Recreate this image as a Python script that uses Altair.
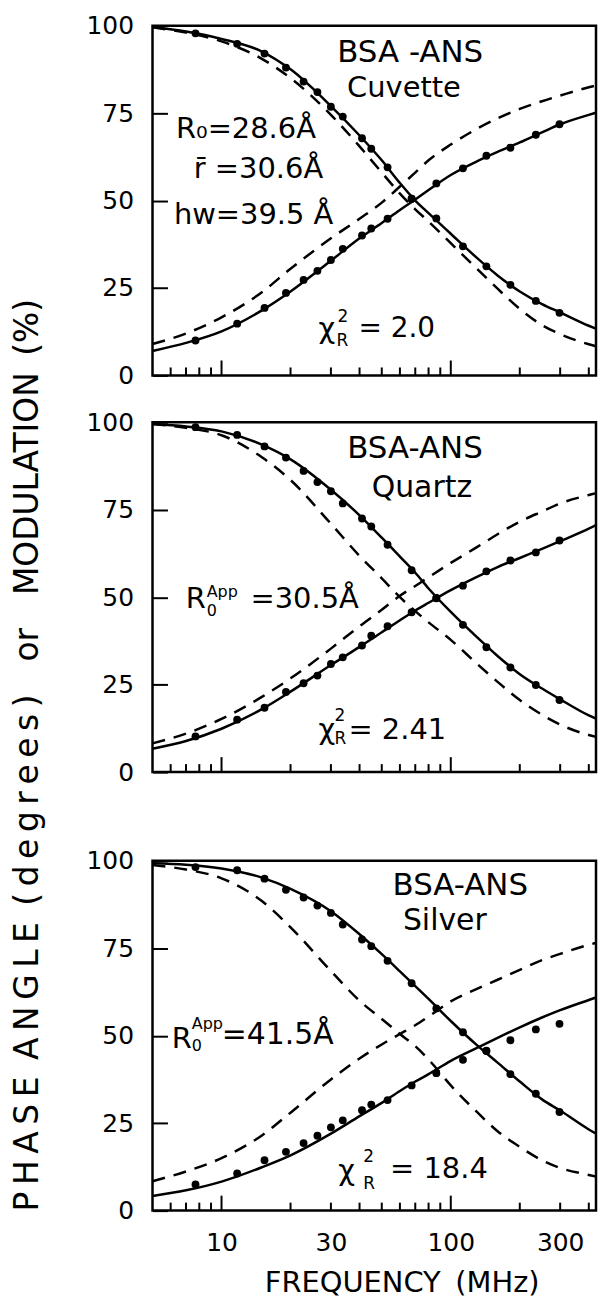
import altair as alt
import pandas as pd

# ---------------- data ----------------
FREQ_DOTS = [7.7, 11.7, 15.4, 19.1, 22.8, 26.2, 30.0, 33.8, 41.0, 45.0, 53.0, 67.5, 86.5, 113, 143, 182, 235, 298]

MOD_CUVETTE = [97.8, 94.8, 92.0, 88.0, 84.0, 81.0, 76.8, 74.0, 67.8, 64.8, 59.5, 50.5, 44.9, 36.9, 31.2, 25.9, 21.3, 17.9]
PHASE_CUVETTE = [10.0, 14.8, 19.3, 23.6, 27.3, 29.9, 33.0, 36.2, 40.0, 42.0, 44.8, 50.5, 54.9, 59.2, 62.8, 65.1, 68.8, 71.8]

MOD_QUARTZ = [98.6, 96.4, 93.1, 89.9, 86.1, 82.9, 80.3, 76.8, 72.5, 70.2, 65.0, 57.7, 49.7, 42.1, 35.7, 29.9, 24.9, 20.6]
PHASE_QUARTZ = [10.2, 15.0, 18.4, 22.9, 25.4, 27.6, 30.9, 32.8, 36.2, 39.0, 41.7, 45.7, 49.8, 53.3, 57.4, 60.5, 62.8, 66.2]

MOD_SILVER = [98.2, 97.3, 94.9, 91.7, 89.5, 87.2, 85.1, 81.8, 77.5, 75.6, 71.4, 65.0, 57.8, 51.0, 45.7, 39.0, 33.4, 28.2]
PHASE_SILVER = [7.5, 10.6, 14.4, 16.8, 19.3, 21.4, 23.8, 25.8, 28.7, 30.3, 31.6, 35.8, 39.3, 43.1, 45.6, 48.7, 51.8, 53.4]

FREQ_CURVE = [5, 7, 10, 15, 20, 30, 40, 50, 60, 70, 80, 100, 130, 160, 200, 250, 300, 400, 480]

FIT_MOD_CUVETTE = [99.6, 98.3, 96.2, 92.6, 87.5, 77.0, 68.6, 61.5, 55.0, 50.0, 46.4, 40.5, 33.6, 28.6, 24.0, 20.4, 18.0, 14.2, 12.2]
FIT_PHASE_CUVETTE = [7.0, 9.3, 12.6, 18.6, 24.0, 32.8, 39.2, 43.6, 47.3, 50.3, 53.0, 57.3, 61.2, 63.9, 66.6, 69.5, 71.8, 74.5, 76.0]
DONOR_MOD_CUVETTE = [99.5, 98.0, 95.5, 90.5, 85.0, 74.5, 65.5, 58.0, 52.0, 47.5, 44.0, 37.8, 30.5, 24.8, 19.0, 14.4, 11.8, 8.9, 7.5]
DONOR_PHASE_CUVETTE = [9.0, 12.0, 16.6, 23.8, 30.5, 39.2, 44.8, 49.4, 54.0, 58.0, 61.5, 66.0, 70.5, 73.5, 76.2, 78.4, 80.0, 82.4, 83.6]

FIT_MOD_QUARTZ = [99.5, 98.8, 97.4, 93.6, 89.4, 80.7, 73.4, 67.0, 61.6, 57.0, 52.5, 45.8, 38.6, 33.2, 28.0, 23.9, 20.8, 16.2, 14.0]
FIT_PHASE_QUARTZ = [6.7, 8.9, 12.4, 18.0, 23.0, 30.6, 35.8, 40.0, 43.4, 46.2, 48.4, 52.0, 55.8, 58.6, 61.2, 63.8, 66.0, 69.6, 72.2]
DONOR_MOD_QUARTZ = [99.5, 98.4, 96.3, 90.0, 83.5, 71.0, 61.8, 55.4, 50.0, 46.0, 42.8, 37.8, 31.0, 25.8, 20.6, 16.4, 13.6, 10.6, 9.5]
DONOR_PHASE_QUARTZ = [8.2, 11.0, 15.2, 21.5, 26.8, 35.3, 41.7, 46.4, 50.4, 53.2, 55.7, 59.8, 64.3, 68.0, 71.6, 74.5, 76.8, 79.2, 80.4]

FIT_MOD_SILVER = [99.3, 98.9, 97.8, 95.2, 92.0, 85.6, 79.0, 73.3, 68.4, 64.2, 60.5, 54.2, 47.3, 42.3, 36.9, 31.8, 28.6, 23.2, 20.3]
FIT_PHASE_SILVER = [4.2, 5.8, 8.3, 12.4, 15.8, 22.0, 27.0, 30.8, 34.2, 36.9, 39.0, 42.8, 46.5, 49.4, 52.4, 55.2, 57.3, 60.2, 62.0]
DONOR_MOD_SILVER = [98.8, 97.5, 95.0, 88.5, 81.0, 68.5, 60.0, 54.8, 50.5, 47.0, 43.2, 35.8, 28.2, 22.7, 18.2, 14.4, 12.2, 10.2, 9.1]
DONOR_PHASE_SILVER = [8.4, 11.2, 15.0, 21.5, 28.0, 37.5, 43.5, 47.5, 50.5, 53.0, 55.5, 59.8, 63.4, 66.0, 68.8, 71.6, 73.4, 76.0, 77.2]

MINOR_TICKS = [6, 7, 8, 9, 20, 30, 40, 50, 60, 70, 80, 90, 200, 300, 400]
MAJOR_TICKS = [10, 100]
Y_TICKS = [0, 25, 50, 75, 100]
X_LABELS = [10, 30, 100, 300]

NB = "\u00a0"
EN = "\u2002"
TH = "\u2009"


def spaced(word):
    return TH.join(word)


Y_TITLE = (spaced("PHASE") + EN + spaced("ANGLE") + EN + spaced("(degrees)") + EN * 2 + "or"
           + EN * 2 + "MODULATION" + EN + "(%)")
X_TITLE = "FREQUENCY" + EN + "(MHz)"

# ---------------- styling ----------------
W, H = 445, 351
FONT = "DejaVu Sans"
xscale = alt.Scale(type="log", domain=[5, 430], nice=False)
yscale = alt.Scale(domain=[0, 100], nice=False)


def y_axis():
    return alt.Axis(values=Y_TICKS, tickSize=15, offset=-15, domain=False, grid=False,
                    labelPadding=19, title=None, labelFontSize=25, labelFont=FONT,
                    labelColor="black", tickColor="black", tickWidth=2)


def make_panel(mod, ph, fit_m, fit_p, don_m, don_p, notes, x_axis):
    def X():
        return alt.X("f:Q", scale=xscale, axis=x_axis)

    def Y():
        return alt.Y("v:Q", scale=yscale, axis=y_axis())

    layers = []
    for vals in (fit_m, fit_p):
        layers.append(alt.Chart(pd.DataFrame({"f": FREQ_CURVE, "v": vals}))
                      .mark_line(color="black", strokeWidth=2.5, interpolate="monotone", clip=True)
                      .encode(x=X(), y=Y()))
    for vals in (don_m, don_p):
        layers.append(alt.Chart(pd.DataFrame({"f": FREQ_CURVE, "v": vals}))
                      .mark_line(color="black", strokeWidth=2.5, strokeDash=[13, 9],
                                 interpolate="monotone", clip=True)
                      .encode(x=X(), y=Y()))
    for vals in (mod, ph):
        layers.append(alt.Chart(pd.DataFrame({"f": FREQ_DOTS, "v": vals}))
                      .mark_circle(color="black", opacity=1, size=62)
                      .encode(x=X(), y=Y()))
    layers.append(alt.Chart(pd.DataFrame({"f": MINOR_TICKS}))
                  .mark_rule(color="black", strokeWidth=2)
                  .encode(x=X(), y=alt.value(H), y2=alt.value(H - 8)))
    layers.append(alt.Chart(pd.DataFrame({"f": MAJOR_TICKS}))
                  .mark_rule(color="black", strokeWidth=2)
                  .encode(x=X(), y=alt.value(H), y2=alt.value(H - 15)))
    for (text, f, v, size, align, dx, dy) in notes:
        layers.append(alt.Chart(pd.DataFrame({"f": [f], "v": [v], "t": [text]}))
                      .mark_text(align=align, baseline="middle", font=FONT, fontSize=size,
                                 color="black", dx=dx, dy=dy)
                      .encode(x=X(), y=Y(), text="t:N"))
    return alt.layer(*layers).properties(width=W, height=H)


notes_cuvette = [
    ("BSA -ANS", 66.5, 92.3, 31, "center", 0, 0),
    ("Cuvette", 62.5, 82.2, 29, "center", 0, 0),
    ("R\u2080=28.6\u00c5", 6.33, 70.5, 29, "left", 0, 0),
    ("r\u0304" + NB + "=30.6\u00c5", 7.57, 59.0, 29, "left", 0, 0),
    ("hw=39.5" + NB + "\u00c5", 6.2, 45.9, 29, "left", 0, 0),
    ("\u03c7", 26.5, 13.4, 29, "left", 0, 0),
    ("2", 26.5, 13.4, 17, "left", 19, -12),
    ("R", 26.5, 13.4, 17, "left", 18, 12),
    ("=" + NB + "2.0", 26.5, 13.4, 28, "left", 40, 0),
]
notes_quartz = [
    ("BSA-ANS", 69.8, 92.4, 31, "center", 0, 0),
    ("Quartz", 74.8, 81.2, 30, "center", 0, 0),
    ("R", 6.98, 49.6, 29, "left", 0, 0),
    ("App", 6.98, 49.6, 16, "left", 21, -7),
    ("0", 6.98, 49.6, 16, "left", 21, 12),
    ("=30.5\u00c5", 6.98, 49.6, 29, "left", 65, 0),
    ("\u03c7", 26.5, 12.0, 29, "left", 0, 0),
    ("2", 26.5, 12.0, 17, "left", 16, -14),
    ("R", 26.5, 12.0, 17, "left", 16, 9),
    ("=" + NB + "2.41", 26.5, 12.0, 29, "left", 30, 0),
]
notes_silver = [
    ("BSA-ANS", 110, 92.7, 31, "center", 0, 0),
    ("Silver", 94.2, 82.8, 30, "center", 0, 0),
    ("R", 6.07, 49.0, 29, "left", 0, 0),
    ("App", 6.07, 49.0, 16, "left", 20, -15),
    ("0", 6.07, 49.0, 16, "left", 20, 7),
    ("=41.5\u00c5", 6.07, 49.0, 30, "left", 50, -4),
    ("\u03c7", 32.3, 11.3, 29, "left", 0, 0),
    ("2", 32.3, 11.3, 17, "left", 25, -14),
    ("R", 32.3, 11.3, 17, "left", 25, 13),
    ("=" + NB + "18.4", 32.3, 11.3, 29, "left", 52, -2),
]

x_none = None
x_spacer = alt.Axis(labels=False, ticks=False, domain=False, grid=False, title=None, minExtent=55)
x_bottom = alt.Axis(values=X_LABELS, format="d", labels=True, ticks=False, tickSize=0,
                    domain=False, grid=False, labelPadding=20, labelFontSize=25,
                    labelFont=FONT, labelColor="black", title=X_TITLE, titleFont=FONT,
                    titleFontSize=29, titleFontWeight="normal", titleColor="black",
                    titleX=250, titleY=72, titleBaseline="middle", titleAlign="center")

p1 = make_panel(MOD_CUVETTE, PHASE_CUVETTE, FIT_MOD_CUVETTE, FIT_PHASE_CUVETTE,
                DONOR_MOD_CUVETTE, DONOR_PHASE_CUVETTE, notes_cuvette, x_none)
p2 = make_panel(MOD_QUARTZ, PHASE_QUARTZ, FIT_MOD_QUARTZ, FIT_PHASE_QUARTZ,
                DONOR_MOD_QUARTZ, DONOR_PHASE_QUARTZ, notes_quartz, x_spacer)
p3 = make_panel(MOD_SILVER, PHASE_SILVER, FIT_MOD_SILVER, FIT_PHASE_SILVER,
                DONOR_MOD_SILVER, DONOR_PHASE_SILVER, notes_silver, x_bottom)

chart = (
    alt.vconcat(p1, p2, p3, spacing=18)
    .properties(
        title=alt.TitleParams(text=Y_TITLE, orient="left", anchor="middle", font=FONT,
                              fontSize=33, fontWeight="normal", color="black",
                              offset=40, dx=-100),
        padding={"left": 4, "top": 1.5, "right": 0, "bottom": 0},
    )
    .configure(background="white", font=FONT)
    .configure_view(stroke="black", strokeWidth=2.5)
)

chart.save("out.html", embed_options={"renderer": "svg", "actions": False})
